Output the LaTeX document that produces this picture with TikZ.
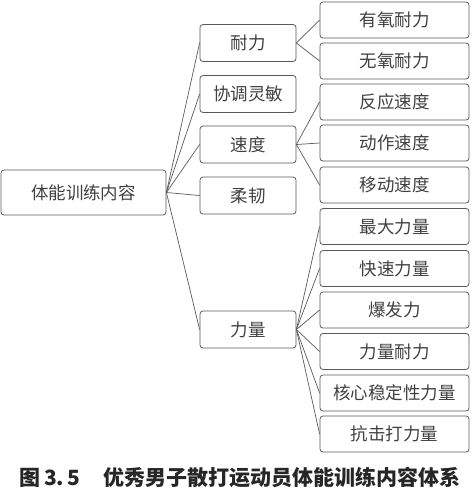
\documentclass[tikz,border=0pt]{standalone}
\usepackage{fontspec}
\newfontfamily\cjk{Noto Sans CJK SC}
\usepackage{xcolor}
\definecolor{boxline}{gray}{0.35}
\definecolor{boxtext}{gray}{0.25}
\tikzset{
  item/.style={draw=boxline, rounded corners=3pt, line width=0.8pt,
    text=boxtext, inner sep=0pt, font=\cjk\fontsize{17.5}{20}\selectfont},
  rootbox/.style={item, minimum width=165pt, minimum height=45pt},
  midbox/.style={item, minimum width=96pt, minimum height=37pt},
  leafbox/.style={item, minimum width=149pt, minimum height=36pt},
  link/.style={draw=boxline, line width=0.7pt}
}
\begin{document}
\begin{tikzpicture}[x=1pt,y=-1pt]
        \useasboundingbox (0,0) rectangle (473,491);

        \node[rootbox] (root) at (83.5,192.5) {体能训练内容};

        \node[midbox] (nai)  at (248,43)  {耐力};
        \node[midbox] (xie)  at (248,94)  {协调灵敏};
        \node[midbox] (su)   at (248,144.5) {速度};
        \node[midbox] (rou)  at (248,195.5) {柔韧};
        \node[midbox] (li)   at (248,329.5) {力量};

        \node[leafbox] (n1) at (394.5,20)  {有氧耐力};
        \node[leafbox] (n2) at (394.5,61)  {无氧耐力};

        \node[leafbox] (s1) at (394.5,102) {反应速度};
        \node[leafbox] (s2) at (394.5,143) {动作速度};
        \node[leafbox] (s3) at (394.5,185) {移动速度};

        \node[leafbox] (l1) at (394.5,226.5) {最大力量};
        \node[leafbox] (l2) at (394.5,268.5) {快速力量};
        \node[leafbox] (l3) at (394.5,310)   {爆发力};
        \node[leafbox] (l4) at (394.5,351.5) {力量耐力};
        \node[leafbox] (l5) at (394.5,393)   {核心稳定性力量};
        \node[leafbox] (l6) at (394.5,434)   {抗击打力量};

        \node[font=\cjk\bfseries\fontsize{21}{23}\selectfont, text=black!85, anchor=west]
          (cap) at (16,478) {图\,3.\,5\hspace{1.1em}优秀男子散打运动员体能训练内容体系};

        \foreach \c in {nai,xie,su,rou,li}
          \draw[link] (root.east) -- (\c.west);
        \foreach \c in {n1,n2}
          \draw[link] (nai.east) -- (\c.west);
        \foreach \c in {s1,s2,s3}
          \draw[link] (su.east) -- (\c.west);
        \foreach \c in {l1,l2,l3,l4,l5,l6}
          \draw[link] (li.east) -- (\c.west);
    \end{tikzpicture}
\end{document}
